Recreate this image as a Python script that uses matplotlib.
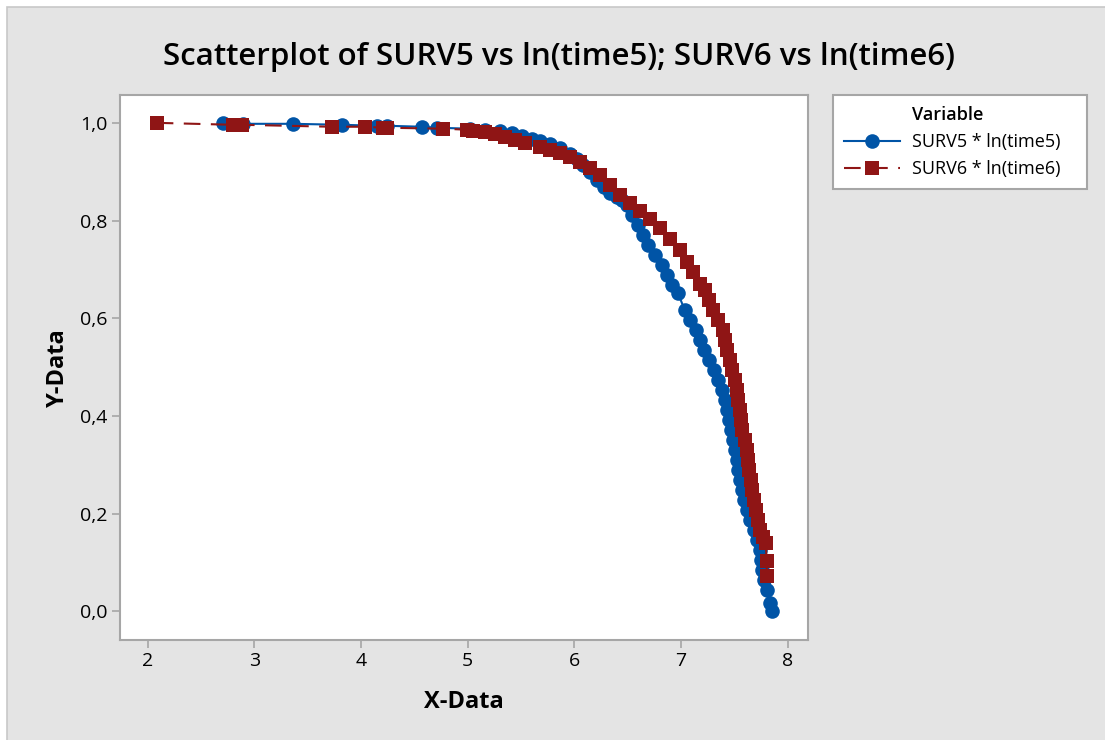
import matplotlib.pyplot as plt
from matplotlib.lines import Line2D
from matplotlib.patches import Rectangle

plt.rcParams["font.family"] = ["Open Sans", "DejaVu Sans"]

# survival estimates vs log time, group 5
ln_time5 = [2.703, 2.891, 3.359, 3.819, 4.147, 4.241, 4.569, 4.709, 5.019,
            5.159, 5.300, 5.413, 5.506, 5.600, 5.675, 5.769, 5.863, 5.956,
            6.022, 6.078, 6.144, 6.209, 6.275, 6.331, 6.397, 6.444, 6.491,
            6.538, 6.594, 6.641, 6.688, 6.753, 6.819, 6.866, 6.913, 6.969,
            7.034, 7.081, 7.138, 7.175, 7.213, 7.259, 7.306, 7.344, 7.381,
            7.409, 7.428, 7.447, 7.466, 7.484, 7.503, 7.522, 7.531, 7.550,
            7.569, 7.588, 7.616, 7.644, 7.681, 7.709, 7.738, 7.747, 7.756,
            7.775, 7.803, 7.831, 7.850]
surv5 = [1.000, 0.998, 0.998, 0.996, 0.994, 0.994, 0.992, 0.990, 0.988,
         0.986, 0.984, 0.980, 0.973, 0.967, 0.963, 0.957, 0.949, 0.936,
         0.926, 0.914, 0.900, 0.883, 0.869, 0.857, 0.848, 0.842, 0.832,
         0.811, 0.791, 0.770, 0.750, 0.730, 0.709, 0.689, 0.668, 0.652,
         0.617, 0.596, 0.576, 0.555, 0.535, 0.514, 0.494, 0.473, 0.453,
         0.432, 0.412, 0.391, 0.371, 0.350, 0.330, 0.309, 0.289, 0.268,
         0.248, 0.227, 0.207, 0.186, 0.166, 0.145, 0.125, 0.105, 0.084,
         0.064, 0.043, 0.016, 0.000]

# survival estimates vs log time, group 6
ln_time6 = [2.084, 2.797, 2.881, 3.725, 4.034, 4.203, 4.241, 4.766, 4.991,
            5.047, 5.159, 5.253, 5.347, 5.441, 5.534, 5.675, 5.769, 5.863,
            5.956, 6.050, 6.144, 6.238, 6.331, 6.425, 6.519, 6.613, 6.706,
            6.800, 6.894, 6.988, 7.053, 7.109, 7.175, 7.222, 7.259, 7.297,
            7.344, 7.391, 7.409, 7.428, 7.456, 7.475, 7.503, 7.522, 7.531,
            7.550, 7.559, 7.569, 7.597, 7.616, 7.625, 7.634, 7.653, 7.663,
            7.681, 7.700, 7.719, 7.738, 7.766, 7.794, 7.803, 7.803]
surv6 = [1.000, 0.996, 0.996, 0.992, 0.992, 0.990, 0.990, 0.988, 0.986,
         0.984, 0.982, 0.977, 0.971, 0.965, 0.959, 0.951, 0.945, 0.939,
         0.930, 0.920, 0.908, 0.893, 0.873, 0.852, 0.836, 0.820, 0.803,
         0.785, 0.762, 0.740, 0.715, 0.695, 0.670, 0.658, 0.637, 0.617,
         0.596, 0.576, 0.555, 0.535, 0.514, 0.494, 0.473, 0.453, 0.432,
         0.412, 0.391, 0.371, 0.350, 0.330, 0.309, 0.289, 0.268, 0.248,
         0.227, 0.207, 0.186, 0.166, 0.152, 0.139, 0.102, 0.072]

xticks = [2, 3, 4, 5, 6, 7, 8]
yticks = [0.0, 0.2, 0.4, 0.6, 0.8, 1.0]
ytick_labels = ["0,0", "0,2", "0,4", "0,6", "0,8", "1,0"]

blue = "#0054a6"
red = "#8f1515"
grey = "#a6a6a6"

fig = plt.figure(figsize=(11.05, 7.40), dpi=100, facecolor="white")
fig.patches.append(Rectangle((7 / 1105, -0.01), 1.0, 1 - 7 / 740 + 0.01,
                             transform=fig.transFigure, facecolor="#e4e4e4",
                             edgecolor="#c8c8c8", linewidth=1.2, zorder=-5))

ax = fig.add_axes([120 / 1105, 1 - 640 / 740, 688 / 1105, 545 / 740])
ax.set_facecolor("white")

ax.plot(ln_time5, surv5, color=blue, linewidth=1.5, marker="o",
        markersize=10.5, markeredgewidth=0, label="SURV5 * ln(time5)")
ax.plot(ln_time6, surv6, color=red, linewidth=1.5, linestyle=(0, (8, 5)),
        marker="s", markersize=10.5, markeredgewidth=0,
        label="SURV6 * ln(time6)")

ax.set_xlim(1.74, 8.19)
ax.set_ylim(-0.059, 1.057)
ax.set_xticks(xticks)
ax.set_yticks(yticks)
ax.set_yticklabels(ytick_labels)
ax.tick_params(direction="out", length=6, width=1.2, color=grey,
               labelsize=14, pad=3)
for spine in ax.spines.values():
    spine.set_color(grey)
    spine.set_linewidth(1.5)

ax.set_xlabel("X-Data", fontsize=17, fontweight="bold", labelpad=14)
ax.set_ylabel("Y-Data", fontsize=17, fontweight="bold", labelpad=7)
fig.text(0.506, 1 - 57 / 740, "Scatterplot of SURV5 vs ln(time5); SURV6 vs ln(time6)",
         ha="center", va="center", fontsize=22.5, fontweight="semibold")

# legend heading as a blank entry so it lines up with the labels
handles, labels = ax.get_legend_handles_labels()
blank = Line2D([], [], linestyle="none")
leg = ax.legend([blank] + handles, ["Variable"] + labels, loc="upper left",
                bbox_to_anchor=(833 / 1105, 1 - 182 / 740, 254 / 1105, 87 / 740),
                bbox_transform=fig.transFigure, mode="expand",
                borderaxespad=0, fontsize=13, fancybox=False, framealpha=1,
                edgecolor=grey, handlelength=3.1, borderpad=0.6,
                labelspacing=0.5, handletextpad=0.65)
leg.get_frame().set_linewidth(1.5)
leg.get_texts()[0].set_fontweight("semibold")

fig.savefig("out.png", dpi=100, facecolor=fig.get_facecolor())
